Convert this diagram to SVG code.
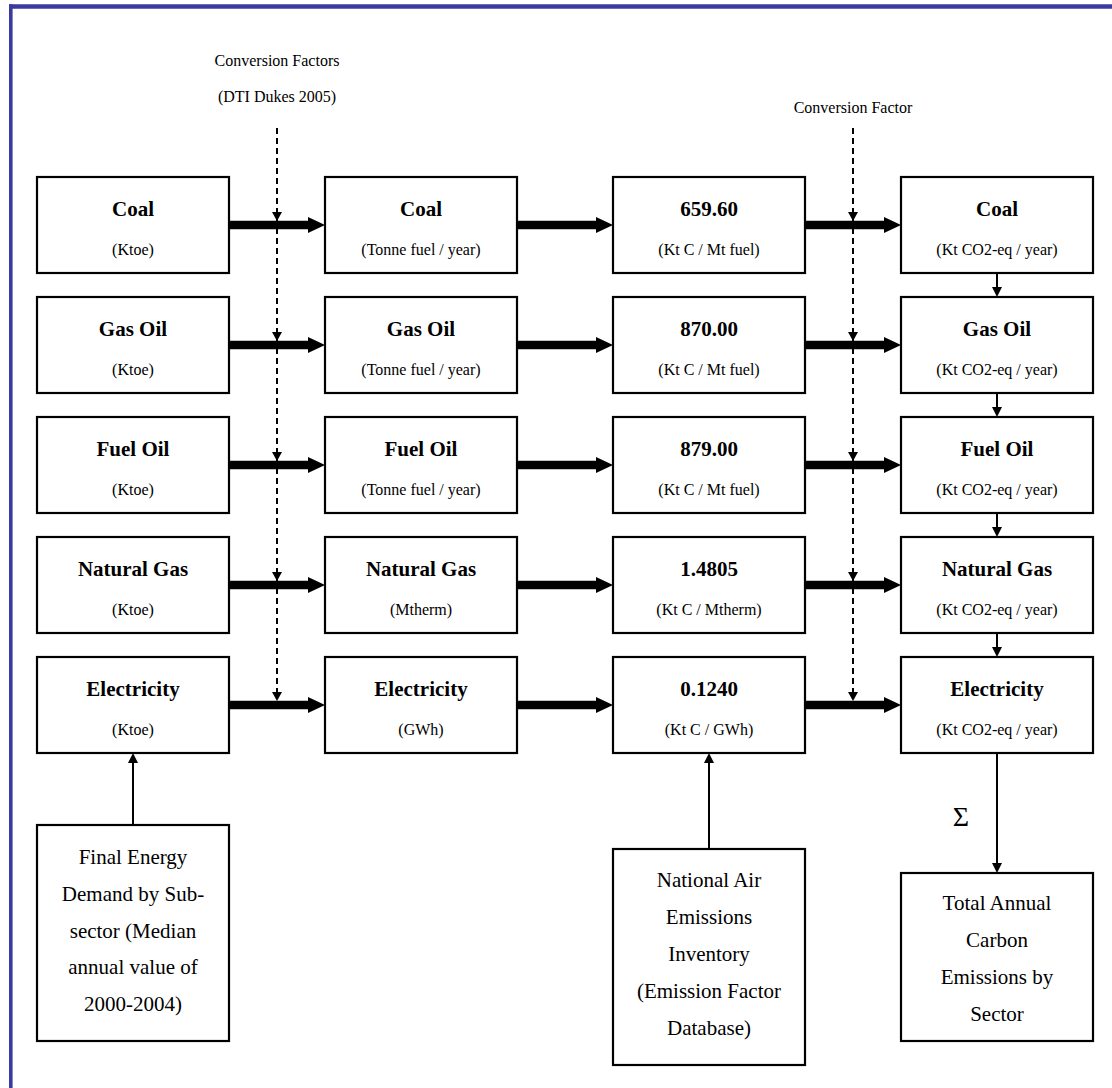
<svg xmlns="http://www.w3.org/2000/svg" width="1112" height="1088" viewBox="0 0 1112 1088">
<style>
  text { fill: #000; text-anchor: middle; }
  .t { font-size: 21px; font-weight: bold; }
  .s { font-size: 16px; }
  .b { font-size: 21px; }
  .lbl { font-size: 16px; }
  .box { fill: #fff; stroke: #000; stroke-width: 2.2; }
  .thin { stroke: #000; stroke-width: 2; fill: none; marker-end: url(#ah); }
  .dash { stroke: #000; stroke-width: 2; stroke-dasharray: 6 4; fill: none; }
  .frame { stroke: #3a3aa0; fill: none; }
</style>
<defs>
  <marker id="ah" markerUnits="userSpaceOnUse" markerWidth="10" markerHeight="10" refX="5" refY="5" orient="auto">
    <path d="M0,0 L10,5 L0,10 Z" fill="#000"/>
  </marker>
  <path id="thick" d="M0,-4.3 H79 V-8 L96,0 L79,8 V4.3 H0 Z" fill="#000"/>
  <path id="dhead" d="M-5,-9 L5,-9 L0,0 Z" fill="#000"/>
</defs>
<rect width="1112" height="1088" fill="#fff"/>
<g id="frame">
  <line class="frame" x1="9" y1="6.5" x2="1112" y2="6.5" stroke-width="4.4"/>
  <line class="frame" x1="10.8" y1="4.3" x2="10.8" y2="1088" stroke-width="3.6"/>
</g>

<g font-family="Liberation Serif, Tinos, DejaVu Serif, Times New Roman, serif">
<g id="labels">
  <text class="lbl" x="277" y="66">Conversion Factors</text>
  <text class="lbl" x="277" y="102">(DTI Dukes 2005)</text>
  <text class="lbl" x="853" y="113">Conversion Factor</text>
  <text x="961" y="826" style="font-size:28px">Σ</text>
</g>

<g id="connectors">
  <use href="#thick" x="229" y="225"/>
  <use href="#thick" x="229" y="345"/>
  <use href="#thick" x="229" y="465"/>
  <use href="#thick" x="229" y="585"/>
  <use href="#thick" x="229" y="705"/>
  <use href="#thick" x="517" y="225"/>
  <use href="#thick" x="517" y="345"/>
  <use href="#thick" x="517" y="465"/>
  <use href="#thick" x="517" y="585"/>
  <use href="#thick" x="517" y="705"/>
  <use href="#thick" x="805" y="225"/>
  <use href="#thick" x="805" y="345"/>
  <use href="#thick" x="805" y="465"/>
  <use href="#thick" x="805" y="585"/>
  <use href="#thick" x="805" y="705"/>
  <line class="dash" x1="277" y1="128" x2="277" y2="695"/>
  <use href="#dhead" x="277" y="221"/>
  <use href="#dhead" x="277" y="341"/>
  <use href="#dhead" x="277" y="461"/>
  <use href="#dhead" x="277" y="581"/>
  <use href="#dhead" x="277" y="701"/>
  <line class="dash" x1="853" y1="128" x2="853" y2="695"/>
  <use href="#dhead" x="853" y="221"/>
  <use href="#dhead" x="853" y="341"/>
  <use href="#dhead" x="853" y="461"/>
  <use href="#dhead" x="853" y="581"/>
  <use href="#dhead" x="853" y="701"/>
  <line class="thin" x1="997" y1="273" x2="997" y2="292"/>
  <line class="thin" x1="997" y1="393" x2="997" y2="412"/>
  <line class="thin" x1="997" y1="513" x2="997" y2="532"/>
  <line class="thin" x1="997" y1="633" x2="997" y2="652"/>
  <line class="thin" x1="997" y1="753" x2="997" y2="868"/>
  <line class="thin" x1="133" y1="825" x2="133" y2="758"/>
  <line class="thin" x1="709" y1="849" x2="709" y2="758"/>
</g>

<g id="col1">
  <g id="n-coal-ktoe"><rect class="box" x="37" y="177" width="192" height="96"/><text class="t" x="133" y="215.5">Coal</text><text class="s" x="133" y="254.5">(Ktoe)</text></g>
  <g id="n-gasoil-ktoe"><rect class="box" x="37" y="297" width="192" height="96"/><text class="t" x="133" y="335.5">Gas Oil</text><text class="s" x="133" y="374.5">(Ktoe)</text></g>
  <g id="n-fueloil-ktoe"><rect class="box" x="37" y="417" width="192" height="96"/><text class="t" x="133" y="455.5">Fuel Oil</text><text class="s" x="133" y="494.5">(Ktoe)</text></g>
  <g id="n-natgas-ktoe"><rect class="box" x="37" y="537" width="192" height="96"/><text class="t" x="133" y="575.5">Natural Gas</text><text class="s" x="133" y="614.5">(Ktoe)</text></g>
  <g id="n-elec-ktoe"><rect class="box" x="37" y="657" width="192" height="96"/><text class="t" x="133" y="695.5">Electricity</text><text class="s" x="133" y="734.5">(Ktoe)</text></g>
</g>

<g id="col2">
  <g id="n-coal-fuel"><rect class="box" x="325" y="177" width="192" height="96"/><text class="t" x="421" y="215.5">Coal</text><text class="s" x="421" y="254.5">(Tonne fuel / year)</text></g>
  <g id="n-gasoil-fuel"><rect class="box" x="325" y="297" width="192" height="96"/><text class="t" x="421" y="335.5">Gas Oil</text><text class="s" x="421" y="374.5">(Tonne fuel / year)</text></g>
  <g id="n-fueloil-fuel"><rect class="box" x="325" y="417" width="192" height="96"/><text class="t" x="421" y="455.5">Fuel Oil</text><text class="s" x="421" y="494.5">(Tonne fuel / year)</text></g>
  <g id="n-natgas-mtherm"><rect class="box" x="325" y="537" width="192" height="96"/><text class="t" x="421" y="575.5">Natural Gas</text><text class="s" x="421" y="614.5">(Mtherm)</text></g>
  <g id="n-elec-gwh"><rect class="box" x="325" y="657" width="192" height="96"/><text class="t" x="421" y="695.5">Electricity</text><text class="s" x="421" y="734.5">(GWh)</text></g>
</g>

<g id="col3">
  <g id="n-ef-coal"><rect class="box" x="613" y="177" width="192" height="96"/><text class="t" x="709" y="215.5">659.60</text><text class="s" x="709" y="254.5">(Kt C / Mt fuel)</text></g>
  <g id="n-ef-gasoil"><rect class="box" x="613" y="297" width="192" height="96"/><text class="t" x="709" y="335.5">870.00</text><text class="s" x="709" y="374.5">(Kt C / Mt fuel)</text></g>
  <g id="n-ef-fueloil"><rect class="box" x="613" y="417" width="192" height="96"/><text class="t" x="709" y="455.5">879.00</text><text class="s" x="709" y="494.5">(Kt C / Mt fuel)</text></g>
  <g id="n-ef-natgas"><rect class="box" x="613" y="537" width="192" height="96"/><text class="t" x="709" y="575.5">1.4805</text><text class="s" x="709" y="614.5">(Kt C / Mtherm)</text></g>
  <g id="n-ef-elec"><rect class="box" x="613" y="657" width="192" height="96"/><text class="t" x="709" y="695.5">0.1240</text><text class="s" x="709" y="734.5">(Kt C / GWh)</text></g>
</g>

<g id="col4">
  <g id="n-co2-coal"><rect class="box" x="901" y="177" width="192" height="96"/><text class="t" x="997" y="215.5">Coal</text><text class="s" x="997" y="254.5">(Kt CO2-eq / year)</text></g>
  <g id="n-co2-gasoil"><rect class="box" x="901" y="297" width="192" height="96"/><text class="t" x="997" y="335.5">Gas Oil</text><text class="s" x="997" y="374.5">(Kt CO2-eq / year)</text></g>
  <g id="n-co2-fueloil"><rect class="box" x="901" y="417" width="192" height="96"/><text class="t" x="997" y="455.5">Fuel Oil</text><text class="s" x="997" y="494.5">(Kt CO2-eq / year)</text></g>
  <g id="n-co2-natgas"><rect class="box" x="901" y="537" width="192" height="96"/><text class="t" x="997" y="575.5">Natural Gas</text><text class="s" x="997" y="614.5">(Kt CO2-eq / year)</text></g>
  <g id="n-co2-elec"><rect class="box" x="901" y="657" width="192" height="96"/><text class="t" x="997" y="695.5">Electricity</text><text class="s" x="997" y="734.5">(Kt CO2-eq / year)</text></g>
</g>

<g id="n-final-energy">
  <rect class="box" x="37" y="825" width="192" height="216"/>
  <text class="b" x="133" y="864">Final Energy</text>
  <text class="b" x="133" y="900.7">Demand by Sub-</text>
  <text class="b" x="133" y="937.5">sector (Median</text>
  <text class="b" x="133" y="974.2">annual value of</text>
  <text class="b" x="133" y="1011">2000-2004)</text>
</g>

<g id="n-naei">
  <rect class="box" x="613" y="849" width="192" height="216"/>
  <text class="b" x="709" y="887">National Air</text>
  <text class="b" x="709" y="924">Emissions</text>
  <text class="b" x="709" y="961">Inventory</text>
  <text class="b" x="709" y="998">(Emission Factor</text>
  <text class="b" x="709" y="1035">Database)</text>
</g>

<g id="n-total">
  <rect class="box" x="901" y="873" width="192" height="168"/>
  <text class="b" x="997" y="910">Total Annual</text>
  <text class="b" x="997" y="947">Carbon</text>
  <text class="b" x="997" y="984">Emissions by</text>
  <text class="b" x="997" y="1021">Sector</text>
</g>
</g>
</svg>
